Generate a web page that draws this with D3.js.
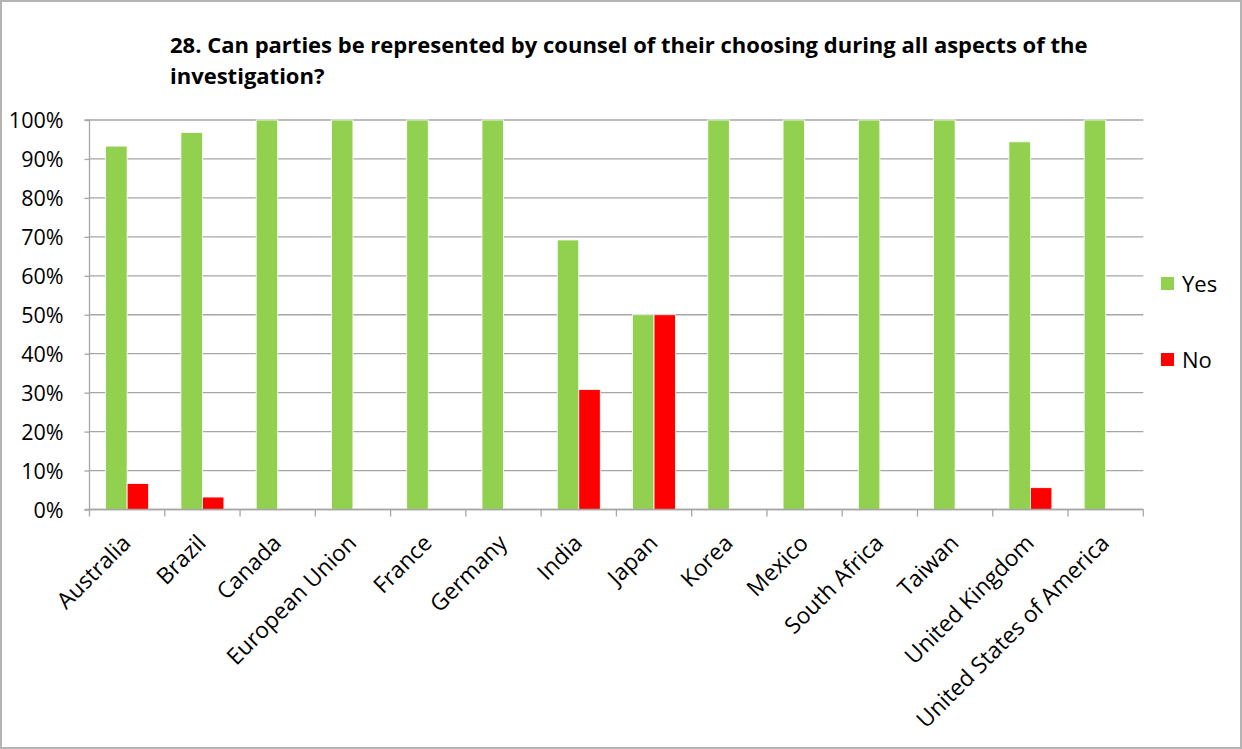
<!DOCTYPE html>
<html><head><meta charset="utf-8">
<script src="https://cdn.jsdelivr.net/npm/d3@7"></script>
<style>body{margin:0;background:#fff}svg{display:block}text{font-family:"Open Sans","Noto Sans",sans-serif}</style>
</head><body>
<svg id="c" width="1242" height="749"></svg>
<script>
const categories = ["Australia","Brazil","Canada","European Union","France","Germany","India","Japan","Korea","Mexico","South Africa","Taiwan","United Kingdom","United States of America"];
const yesValues = [93.3,96.8,100,100,100,100,69.2,50,100,100,100,100,94.4,100];
const noValues = [6.7,3.2,0,0,0,0,30.8,50,0,0,0,0,5.6,0];
const seriesNames = ["Yes","No"];
const seriesColors = ["#92d050","#ff0000"];
const yTicks = [0,10,20,30,40,50,60,70,80,90,100];
const titleLines = ["28. Can parties be represented by counsel of their choosing during all aspects of the","investigation?"];

(function(){
const svg = d3.select("#c");
svg.append("rect").attr("x",1).attr("y",1).attr("width",1240).attr("height",747).attr("fill","#fff").attr("stroke","#b4b4b4").attr("stroke-width",2);

const pL=89.5,pR=1143.3,pT=120,pB=509.5;
const x = d3.scaleBand().domain(categories).range([pL,pR]).paddingInner(0).paddingOuter(0);
const y = d3.scaleLinear().domain([0,100]).range([pB,pT]);
const inner = d3.scaleBand().domain(seriesNames).range([0,x.bandwidth()]).paddingInner(0).paddingOuter(0.75);

// grid
svg.append("g").selectAll("line").data(yTicks).join("line")
 .attr("x1",pL).attr("x2",pR).attr("y1",d=>y(d)).attr("y2",d=>y(d))
 .attr("stroke","#a6a6a6").attr("stroke-width",1.3);

// bars
const data = categories.map((c,i)=>({c, vals:[yesValues[i],noValues[i]]}));
const g = svg.append("g");
data.forEach(d=>{
  d.vals.forEach((v,j)=>{
    if(v<=0) return;
    g.append("rect").attr("x",x(d.c)+inner(seriesNames[j])).attr("y",y(v))
     .attr("width",inner.bandwidth()).attr("height",y(0)-y(v))
     .attr("fill",seriesColors[j]).attr("stroke","#fff").attr("stroke-width",0.8);
  });
});

// y axis
const yAxis = d3.axisLeft(y).tickValues(yTicks).tickFormat(d=>d+"%").tickSize(5).tickPadding(6);
const ya = svg.append("g").attr("transform",`translate(${pL},0)`).call(yAxis);
ya.select(".domain").attr("stroke","#a6a6a6").attr("stroke-width",1.3).attr("d",`M-5,${pT}H0V${pB}H-5`);
ya.selectAll(".tick line").attr("stroke","#a6a6a6").attr("stroke-width",1.3);
ya.selectAll(".tick text").attr("font-size",21.5).attr("fill","#000").attr("dy","0.36em").attr("x",-26);

// x axis
const xa = svg.append("g").attr("transform",`translate(0,${pB})`);
xa.append("line").attr("x1",pL).attr("x2",pR).attr("stroke","#a6a6a6").attr("stroke-width",1.3);
const bounds = categories.map(c=>x(c)).concat([pR]);
xa.selectAll("line.t").data(bounds).join("line").attr("class","t")
 .attr("x1",d=>d).attr("x2",d=>d).attr("y1",0).attr("y2",7).attr("stroke","#a6a6a6").attr("stroke-width",1.3);
xa.selectAll("text").data(categories).join("text")
 .attr("transform",d=>`translate(${x(d)+x.bandwidth()/2+5},${35}) rotate(-45)`)
 .attr("text-anchor","end").attr("font-size",22.7).attr("fill","#000").text(d=>d);

// title
svg.append("g").selectAll("text").data(titleLines).join("text")
 .attr("x",170).attr("y",(d,i)=>53+i*31).attr("font-size",22).attr("font-weight","bold").attr("fill","#000").text(d=>d);

// legend
const lg = svg.append("g");
seriesNames.forEach((s,i)=>{
  lg.append("rect").attr("x",1161).attr("y",277+i*76).attr("width",13).attr("height",13).attr("fill",seriesColors[i]);
  lg.append("text").attr("x",1182).attr("y",291.5+i*76).attr("font-size",22).attr("fill","#000").text(s);
});
})();
</script>
</body></html>
